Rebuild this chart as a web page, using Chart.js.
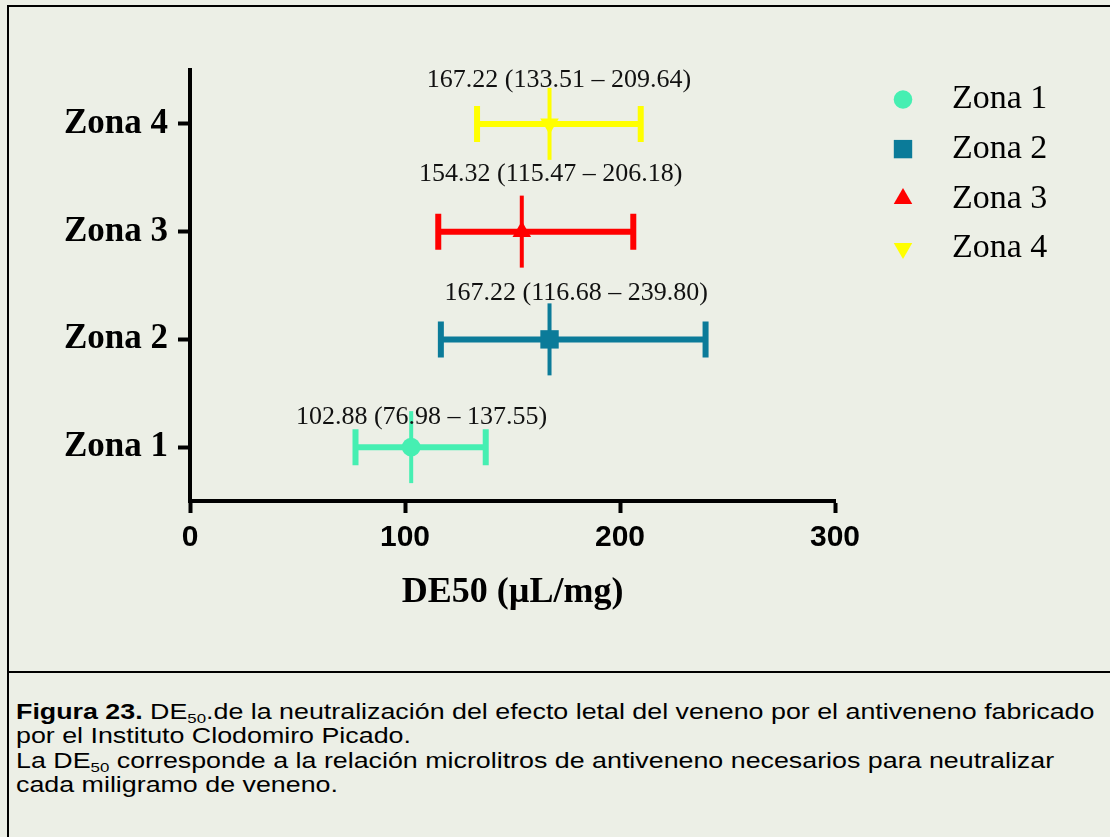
<!DOCTYPE html>
<html lang="es">
<head>
<meta charset="utf-8">
<title>DE50 por zona</title>
<script src="https://cdn.jsdelivr.net/npm/chart.js@4.4.1/dist/chart.umd.min.js"></script>
<style>
  html, body { margin: 0; padding: 0; }
  body {
    width: 1110px; height: 837px; overflow: hidden; position: relative;
    background: #ECEFE6;
    font-family: "Liberation Sans", Arial, sans-serif;
  }
  #frame {
    position: absolute; left: 7px; top: 5px; width: 1200px; height: 900px;
    border-left: 2px solid #000; border-top: 2px solid #000; box-sizing: border-box;
  }
  #divider { position: absolute; left: 7px; top: 671px; width: 1200px; height: 2px; background: #000; }
  #plot { position: absolute; left: 0; top: 0; }
  #caption {
    position: absolute; left: 16px; top: 700px;
    font-size: 21.5px; line-height: 24.3px; color: #000; white-space: nowrap;
    transform: scaleX(1.247); transform-origin: 0 0;
  }
  #caption sub { font-size: 13.5px; vertical-align: -4px; line-height: 0; }
</style>
</head>
<body>
<div id="frame"></div>
<canvas id="plot" width="1110" height="671"></canvas>
<div id="divider"></div>
<div id="caption"><b>Figura 23.</b> DE<sub>50</sub>.de la neutralización del efecto letal del veneno por el antiveneno fabricado<br>por el Instituto Clodomiro Picado.<br>La DE<sub>50</sub> corresponde a la relación microlitros de antiveneno necesarios para neutralizar<br>cada miligramo de veneno.</div>

<script>
// DE50 (µL/mg) with 95% confidence interval, one row per zone
const zones  = ['Zona 1', 'Zona 2', 'Zona 3', 'Zona 4'];
const ed50   = [102.88, 167.22, 154.32, 167.22];
const ciLow  = [76.98, 116.68, 115.47, 133.51];
const ciHigh = [137.55, 239.80, 206.18, 209.64];
const xTicks = [0, 100, 200, 300];

// Appearance of each zone
const zoneColors  = ['#46EFB2', '#0B7B99', '#FF0000', '#FFFF00'];
const zoneMarkers = [
  { style: 'circle',   radius: 9.3,  rotation: 0 },
  { style: 'rect',     radius: 13,   rotation: 0 },
  { style: 'triangle', radius: 10.7, rotation: 0 },
  { style: 'triangle', radius: 10.7, rotation: 180 }
];
// Hand placement of the value labels (pixels, relative to interval centre / point row)
const labelNudge = [[1, -30], [3, -46], [15, -57], [0, -44]];

const serif = '"Liberation Serif", "Times New Roman", serif';
const sans  = '"Liberation Sans", Arial, sans-serif';

const fmt = v => v.toFixed(2);

// Confidence interval bars with end caps, plus the short vertical stroke through each point
const intervalBars = {
  id: 'intervalBars',
  beforeDatasetsDraw(chart) {
    const { ctx, scales: { x, y } } = chart;
    ctx.save();
    ctx.lineCap = 'butt';
    chart.data.datasets.forEach((ds, i) => {
      const py = y.getPixelForValue(i + 1);
      const x0 = x.getPixelForValue(ciLow[i]);
      const x1 = x.getPixelForValue(ciHigh[i]);
      const xc = x.getPixelForValue(ed50[i]);
      ctx.strokeStyle = zoneColors[i];
      ctx.lineWidth = 6;
      ctx.beginPath();
      ctx.moveTo(x0, py); ctx.lineTo(x1, py);
      ctx.moveTo(x0, py - 18); ctx.lineTo(x0, py + 18);
      ctx.moveTo(x1, py - 18); ctx.lineTo(x1, py + 18);
      ctx.stroke();
      ctx.lineWidth = 4;
      ctx.beginPath();
      ctx.moveTo(xc, py - 36); ctx.lineTo(xc, py + 36);
      ctx.stroke();
    });
    ctx.restore();
  }
};

// "value (low – high)" text above each interval
const valueLabels = {
  id: 'valueLabels',
  afterDatasetsDraw(chart) {
    const { ctx, scales: { x, y } } = chart;
    ctx.save();
    ctx.font = '26px ' + serif;
    ctx.fillStyle = '#111';
    ctx.textAlign = 'center';
    ctx.textBaseline = 'middle';
    zones.forEach((z, i) => {
      const cx = x.getPixelForValue((ciLow[i] + ciHigh[i]) / 2) + labelNudge[i][0];
      const cy = y.getPixelForValue(i + 1) + labelNudge[i][1];
      ctx.fillText(fmt(ed50[i]) + ' (' + fmt(ciLow[i]) + ' \u2013 ' + fmt(ciHigh[i]) + ')', cx, cy);
    });
    ctx.restore();
  }
};

// Legend to the right of the plot: marker, then zone name
const zoneLegend = {
  id: 'zoneLegend',
  afterDraw(chart) {
    const { ctx, chartArea } = chart;
    const mx = chartArea.right + 68;
    const tx = chartArea.right + 117;
    const y0 = chartArea.top + 29.5;
    const step = 49.6;
    ctx.save();
    chart.data.datasets.forEach((ds, i) => {
      const cy = y0 + i * step;
      const m = zoneMarkers[i];
      ctx.fillStyle = zoneColors[i];
      ctx.strokeStyle = zoneColors[i];
      Chart.helpers.drawPoint(ctx, {
        pointStyle: m.style, radius: m.radius, rotation: m.rotation, borderWidth: 0
      }, mx, cy);
      ctx.fillStyle = '#000';
      ctx.font = '34px ' + serif;
      ctx.textAlign = 'left';
      ctx.textBaseline = 'middle';
      ctx.fillText(ds.label, tx, cy);
    });
    ctx.restore();
  }
};

const datasets = zones.map((z, i) => ({
  label: z,
  data: [{ x: ed50[i], y: i + 1 }],
  pointStyle: zoneMarkers[i].style,
  pointRadius: zoneMarkers[i].radius,
  pointHoverRadius: zoneMarkers[i].radius,
  pointRotation: zoneMarkers[i].rotation,
  backgroundColor: zoneColors[i],
  borderColor: zoneColors[i],
  borderWidth: 0,
  showLine: false
}));

new Chart(document.getElementById('plot'), {
  type: 'scatter',
  data: { datasets },
  options: {
    responsive: false,
    devicePixelRatio: 1,
    animation: false,
    events: [],
    layout: { padding: { top: 70, right: 275, left: 0, bottom: 0 } },
    plugins: { legend: { display: false }, tooltip: { enabled: false } },
    scales: {
      x: {
        type: 'linear',
        min: 0, max: 300,
        afterBuildTicks: s => { s.ticks = xTicks.map(v => ({ value: v })); },
        afterFit: s => { s.height = 170; },
        ticks: {
          callback: v => String(v),
          color: '#000',
          font: { family: sans, size: 30, weight: 'bold' },
          padding: 7,
          maxRotation: 0
        },
        grid: {
          display: true, drawOnChartArea: false, drawTicks: true,
          tickLength: 12, tickWidth: 4, tickColor: '#000', color: '#000'
        },
        border: { display: true, width: 4, color: '#000' },
        title: {
          display: true,
          text: 'DE50 (\u00B5L/mg)',
          color: '#000',
          font: { family: serif, size: 36, weight: 'bold' },
          padding: { top: 0, bottom: 57 }
        }
      },
      y: {
        type: 'linear',
        min: 0.5, max: 4.5,
        afterBuildTicks: s => { s.ticks = zones.map((z, i) => ({ value: i + 1 })); },
        afterFit: s => { s.width = 190; },
        ticks: {
          callback: v => zones[v - 1],
          color: '#000',
          font: { family: serif, size: 35, weight: 'bold' },
          padding: 10
        },
        grid: {
          display: true, drawOnChartArea: false, drawTicks: true,
          tickLength: 12, tickWidth: 4, tickColor: '#000', color: '#000'
        },
        border: { display: true, width: 4, color: '#000' }
      }
    }
  },
  plugins: [intervalBars, valueLabels, zoneLegend]
});
</script>
</body>
</html>
